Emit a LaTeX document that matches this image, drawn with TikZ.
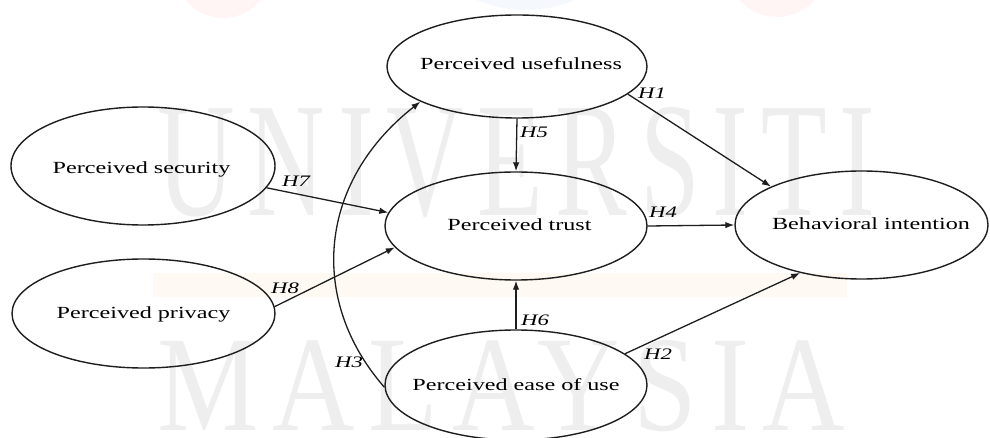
\documentclass[tikz,border=0pt]{standalone}
\usepackage{fontspec}
\setmainfont{Liberation Serif}[FakeStretch=1.42]
\newfontfamily\wmfont{Liberation Serif}[LetterSpace=12]
\usetikzlibrary{shapes.geometric,arrows.meta}
% zero-width centred label, optionally nudged sideways by half of #1
\newcommand\ctext[2][0pt]{\makebox[0pt]{\hspace*{#1}#2}}
\definecolor{wmgray}{RGB}{238,238,238}
\definecolor{wmband}{RGB}{255,249,243}
\definecolor{wmpink}{RGB}{255,245,245}
\definecolor{wmblue}{RGB}{245,249,253}
\definecolor{inkc}{RGB}{30,30,30}
\begin{document}
\begin{tikzpicture}[x=1pt,y=-1pt,
  construct/.style={ellipse,draw=inkc,line width=1.4pt,inner sep=0pt,
    font=\fontsize{17}{20}\selectfont,text depth=0pt},
  link/.style={draw=inkc,line width=1.3pt,-{Latex[length=9pt,width=6.5pt]}},
  hyp/.style={font=\fontsize{16}{18}\selectfont\itshape,inner sep=0pt}]
\useasboundingbox (0,0) rectangle (990,438);
\fill[white] (0,0) rectangle (990,438);

% background watermark
\fill[wmpink] (223,-30) circle [radius=48];
\fill[wmblue] (526,-115) circle [radius=125];
\fill[wmpink] (777,-33) circle [radius=50];
\fill[wmband] (153,273) rectangle (847,297);
\node[anchor=south west,inner sep=0pt,text=wmgray] (wmtop) at (157,218)
  {\resizebox{718pt}{108pt}{\wmfont UNIVERSITI}};
\node[anchor=south west,inner sep=0pt,text=wmgray] (wmbottom) at (157,432)
  {\resizebox{688pt}{90pt}{\wmfont MALAYSIA}};

% constructs
\node[construct,minimum width=260pt,minimum height=103pt,text height=5.6pt]
  (pu) at (517,66.5) {\ctext[8pt]{Perceived usefulness}};
\node[construct,minimum width=264pt,minimum height=118pt,text height=16pt]
  (ps) at (143,166) {\ctext[-3pt]{Perceived security}};
\node[construct,minimum width=263pt,minimum height=109pt,text height=9pt]
  (pp) at (143.5,313.5) {\ctext{Perceived privacy}};
\node[construct,minimum width=262pt,minimum height=108pt,text height=9.4pt]
  (pt) at (516,226) {\ctext[7pt]{Perceived trust}};
\node[construct,minimum width=253pt,minimum height=108pt,text height=10pt]
  (bi) at (861.5,225) {\ctext[19pt]{Behavioral intention}};
\node[construct,minimum width=262pt,minimum height=110pt,text height=10pt]
  (pe) at (516,385) {\ctext{Perceived ease of use}};

% hypothesised paths
\draw[link] (pu.south) -- (pt.north);
\draw[link] (pu.-14.3) -- (bi.157.8);
\draw[link] (ps.-10) -- (pt.174);
\draw[link] (pp.3) -- (pt.190);
\draw[link] (pt.east) -- (bi.west);
\draw[link] (pe.north) -- (pt.south);
\draw[link] (pe.16.8) -- (bi.218.4);
\draw[link] (pe.181) .. controls (308,300) and (318,182) .. (pu.200.2);

% path labels
\node[hyp] (h1) at (652,93) {H1};
\node[hyp] (h2) at (658,354) {H2};
\node[hyp] (h3) at (349,362) {H3};
\node[hyp] (h4) at (663,212) {H4};
\node[hyp] (h5) at (534,132) {H5};
\node[hyp] (h6) at (535,320) {H6};
\node[hyp] (h7) at (296,181) {H7};
\node[hyp] (h8) at (285,288) {H8};
\end{tikzpicture}
\end{document}
